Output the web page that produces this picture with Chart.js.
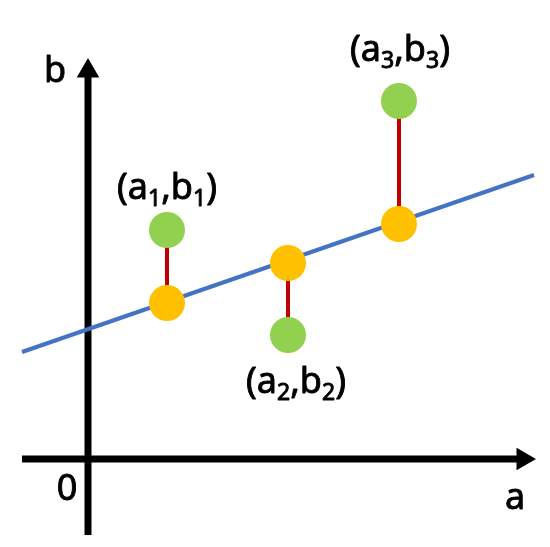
<!DOCTYPE html>
<html>
<head>
<meta charset="utf-8">
<script src="https://cdn.jsdelivr.net/npm/chart.js@4"></script>
<style>
  html, body { margin: 0; padding: 0; background: #fff; }
  #wrap { width: 550px; height: 547px; }
</style>
</head>
<body>
<div id="wrap"><canvas id="fit"></canvas></div>
<script>
// sample points (a_i), observed b_i and fitted b on the line
const pointA = [0.79, 2.0, 3.11];
const observedB = [2.29, 1.24, 3.58];
const fittedB = [1.56, 1.96, 2.35];

// fitted straight line end points
const lineA = [-0.66, 4.46];
const lineB = [1.07, 2.84];

// axes (end point carries the arrow head)
const axisXA = [-0.66, 4.35];
const axisXB = [0, 0];
const axisYA = [0, 0];
const axisYB = [-0.76, 3.88];

// text labels
const labels = [
  { a: 0.79, b: 2.73, parts: [['(', 0], ['a', 0], ['1', 1], [',', 0], ['b', 0], ['1', 1], [')', 0]] },
  { a: 2.08, b: 0.79, parts: [['(', 0], ['a', 0], ['2', 1], [',', 0], ['b', 0], ['2', 1], [')', 0]] },
  { a: 3.12, b: 4.11, parts: [['(', 0], ['a', 0], ['3', 1], [',', 0], ['b', 0], ['3', 1], [')', 0]] },
  { a: -0.33, b: 3.90, parts: [['b', 0]] },
  { a: 4.27, b: -0.37, parts: [['a', 0]] },
  { a: -0.21, b: -0.28, parts: [['0', 0]] },
];

const GREEN = '#92D050';
const ORANGE = '#FFC000';
const BLUE = '#4472C4';
const RED = '#C00000';

function pts(xs, ys) {
  return xs.map((x, i) => ({ x: x, y: ys[i] }));
}

const datasets = [];

// dots on top
datasets.push({
  data: pts(pointA, observedB),
  showLine: false,
  pointRadius: 18,
  pointBackgroundColor: GREEN,
  pointBorderWidth: 0,
  order: 0
});
datasets.push({
  data: pts(pointA, fittedB),
  showLine: false,
  pointRadius: 18,
  pointBackgroundColor: ORANGE,
  pointBorderWidth: 0,
  order: 0
});

// red residual segments
pointA.forEach((a, i) => {
  datasets.push({
    data: [{ x: a, y: observedB[i] }, { x: a, y: fittedB[i] }],
    showLine: true,
    borderColor: RED,
    borderWidth: 4,
    pointRadius: 0,
    order: 1
  });
});

// fitted line
datasets.push({
  data: pts(lineA, lineB),
  showLine: true,
  borderColor: BLUE,
  borderWidth: 4,
  pointRadius: 0,
  order: 2
});

// axes with arrows
datasets.push({
  data: pts(axisXA, axisXB),
  showLine: true,
  borderColor: '#000',
  borderWidth: 7,
  pointRadius: [0, 13],
  pointStyle: 'triangle',
  rotation: 90,
  pointBackgroundColor: '#000',
  pointBorderWidth: 0,
  order: 3
});
datasets.push({
  data: pts(axisYA, axisYB),
  showLine: true,
  borderColor: '#000',
  borderWidth: 7,
  pointRadius: [0, 13],
  pointStyle: 'triangle',
  rotation: 0,
  pointBackgroundColor: '#000',
  pointBorderWidth: 0,
  order: 3
});

const textPlugin = {
  id: 'texts',
  afterDatasetsDraw(chart) {
    const ctx = chart.ctx;
    const xs = chart.scales.x, ys = chart.scales.y;
    const size = 36, subSize = 23;
    ctx.save();
    ctx.fillStyle = '#000';
    ctx.strokeStyle = '#000';
    ctx.lineWidth = 0.9;
    ctx.lineJoin = 'round';
    ctx.textBaseline = 'alphabetic';
    labels.forEach(l => {
      let w = 0;
      l.parts.forEach(p => {
        ctx.font = (p[1] ? subSize : size) + 'px "Noto Sans"';
        w += ctx.measureText(p[0]).width;
      });
      let x = xs.getPixelForValue(l.a) - w / 2;
      const base = ys.getPixelForValue(l.b) + size * 0.36;
      l.parts.forEach(p => {
        ctx.font = (p[1] ? subSize : size) + 'px "Noto Sans"';
        const y = p[1] ? base + 7 : base;
        ctx.fillText(p[0], x, y);
        ctx.strokeText(p[0], x, y);
        x += ctx.measureText(p[0]).width;
      });
    });
    ctx.restore();
  }
};

new Chart(document.getElementById('fit'), {
  type: 'scatter',
  data: { datasets: datasets },
  options: {
    responsive: true,
    maintainAspectRatio: false,
    animation: false,
    layout: { padding: 0, autoPadding: false },
    plugins: {
      legend: { display: false },
      tooltip: { enabled: false }
    },
    scales: {
      x: { type: 'linear', min: -0.88, max: 4.62, display: false },
      y: { type: 'linear', min: -0.88, max: 4.59, display: false }
    }
  },
  plugins: [textPlugin]
});
</script>
</body>
</html>
